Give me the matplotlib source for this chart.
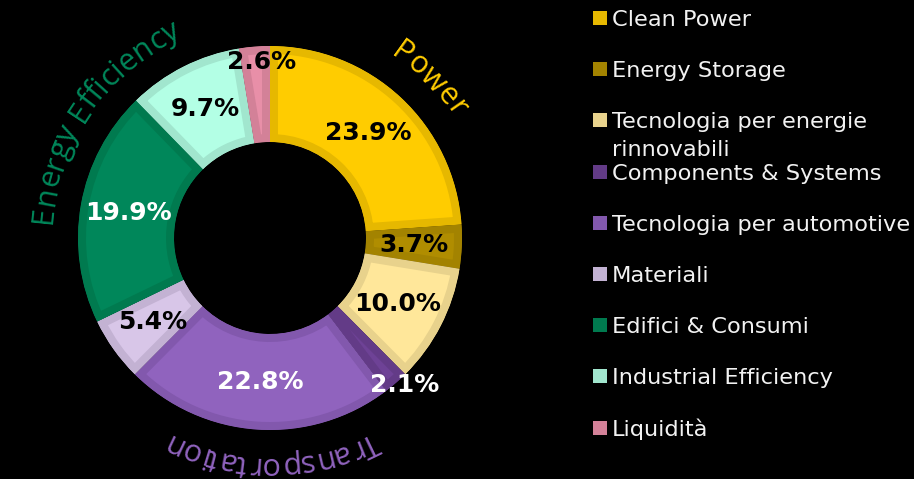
import matplotlib
matplotlib.use("Agg")
import matplotlib.pyplot as plt
from matplotlib.patches import Rectangle
import numpy as np

categories = ["Clean Power", "Energy Storage", "Tecnologia per energie\nrinnovabili",
              "Components & Systems", "Tecnologia per automotive", "Materiali",
              "Edifici & Consumi", "Industrial Efficiency", "Liquidità"]
values = [23.9, 3.7, 10.0, 2.1, 22.8, 5.4, 19.9, 9.7, 2.6]
groups = ["Power", "Transportation", "Energy Efficiency"]

fill = ["#FFCC00", "#B08D00", "#FFE79A", "#6E4296", "#9063BE",
        "#D8C6E8", "#00875A", "#B3FFE5", "#E88FA8"]
band = ["#E6B800", "#A38300", "#E8D28C", "#633B87", "#8258AD",
        "#C3B2D3", "#007A4F", "#A1E6CE", "#D38198"]
label_col = ["black", "black", "black", "white", "white", "black", "white", "black", "black"]
label_r = [0.75, 0.75, 0.75, 1.04, 0.75, 0.75, 0.75, 0.75, 0.92]
label_shift = [0, 0, 0, 1.5, 0, 0, 0, 0, -2]  # degrees, counter-clockwise

group_col = ["#FFCC00", "#9063BE", "#00875A"]
group_ang = [45, 180, -55]

FONT = ["DejaVu Sans"]
ARC_FONT = ["Open Sans"]
W, H = 914, 479
cx, cy, R, half = 270, 241, 192, 1.4

fig = plt.figure(figsize=(W / 100, H / 100), dpi=100, facecolor="black")
ax = fig.add_axes([(cx - half * R) / W, (cy - half * R) / H, 2 * half * R / W, 2 * half * R / H])
ax.set_facecolor("black")

wedges, _ = ax.pie(values, colors=fill, startangle=90, counterclock=False, radius=1,
                   wedgeprops=dict(width=0.5, linewidth=0))
for w, c in zip(wedges, band):
    w.set_edgecolor(c)
    w.set_linewidth(11.5)
    w.set_clip_on(True)
    w.set_clip_path(w)

for w, v, tc, lr, sh in zip(wedges, values, label_col, label_r, label_shift):
    a = np.radians((w.theta1 + w.theta2) / 2 + sh)
    ax.text(lr * np.cos(a), lr * np.sin(a), f"{v:.1f}%", ha="center", va="center",
            fontsize=18, fontweight="bold", color=tc, family=FONT)

ax.set_xlim(-half, half)
ax.set_ylim(-half, half)
ax.set_aspect("auto")
ax.axis("off")

rend = fig.canvas.get_renderer()


def ink_width(s, size):
    t = ax.text(0, 0, s, fontsize=size, family=ARC_FONT)
    wd = t.get_window_extent(rend).width
    t.remove()
    return wd


def arc_text(s, theta_c, r, color, size=22):
    # ink centre of each letter, measured the same way matplotlib lays the word out
    total = ink_width(s, size)
    r_px = r * R
    start = np.radians(theta_c) - total / (2 * r_px)
    for k, ch in enumerate(s):
        if ch == " ":
            continue
        mid = ink_width(s[:k + 1], size) - ink_width(ch, size) / 2
        a = start + mid / r_px
        ax.text(r * np.sin(a), r * np.cos(a), ch, rotation=-np.degrees(a), rotation_mode="anchor",
                ha="center", va="baseline", fontsize=size, color=color, family=ARC_FONT)


for g, c, ang in zip(groups, group_col, group_ang):
    arc_text(g, ang, 1.14, c)

# legend
for i, (lab, c) in enumerate(zip(categories, band)):
    yc = H - (18 + 51.2 * i)
    fig.patches.append(Rectangle((593 / W, (yc - 7) / H), 14 / W, 14 / H,
                                 transform=fig.transFigure, facecolor=c, edgecolor="none"))
    for j, line in enumerate(lab.split("\n")):
        fig.text(612 / W, (yc - 28 * j) / H, line, ha="left", va="center_baseline",
                 fontsize=16.2, color="#F2F2F2", family=FONT)

fig.savefig("out.png", dpi=100, facecolor="black")
